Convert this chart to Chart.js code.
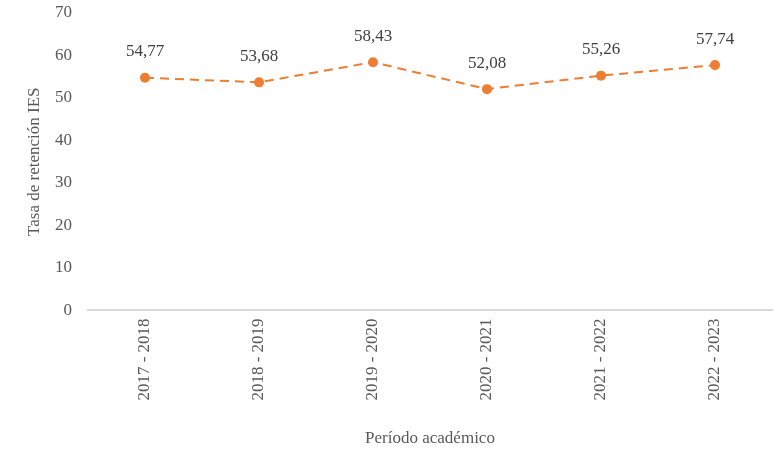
<!DOCTYPE html>
<html>
<head>
<meta charset="utf-8">
<script src="https://cdn.jsdelivr.net/npm/chart.js@4/dist/chart.umd.min.js"></script>
<style>
    html, body { margin: 0; padding: 0; background: #fff; }
    #wrap { width: 777px; height: 449px; }
</style>
</head>
<body>
<div id="wrap"><canvas id="chart"></canvas></div>
<script>
// ── Données ────────────────────────────────────────────────
const PERIODOS = ['2017 - 2018', '2018 - 2019', '2019 - 2020', '2020 - 2021', '2021 - 2022', '2022 - 2023'];
const TASAS    = [54.77, 53.68, 58.43, 52.08, 55.26, 57.74];
const Y_TICKS  = [0, 10, 20, 30, 40, 50, 60, 70];

const ORANGE = '#ED7D31';
const GRIS   = '#595959';
const FONT   = "'Liberation Serif', 'Times New Roman', serif";

// valeurs au-dessus des points
const labelsPlugin = {
    id: 'valueLabels',
    afterDatasetsDraw(chart) {
        const ctx  = chart.ctx;
        const meta = chart.getDatasetMeta(0);
        ctx.save();
        ctx.font = `17px ${FONT}`;
        ctx.fillStyle = '#404040';
        ctx.textAlign = 'center';
        ctx.textBaseline = 'middle';
        meta.data.forEach((pt, i) => {
            const txt = TASAS[i].toFixed(2).replace('.', ',');
            ctx.fillText(txt, pt.x, pt.y - 26);
        });
        ctx.restore();
    }
};

const ctx = document.getElementById('chart').getContext('2d');
new Chart(ctx, {
    type: 'line',
    data: {
        labels: PERIODOS,
        datasets: [{
            data: TASAS,
            borderColor: ORANGE,
            backgroundColor: ORANGE,
            borderWidth: 2,
            borderDash: [9, 6],
            pointRadius: 5,
            pointBorderWidth: 0,
            pointBackgroundColor: ORANGE,
            tension: 0,
        }]
    },
    options: {
        responsive: true,
        maintainAspectRatio: false,
        animation: false,
        layout: { padding: { top: 13, right: -5, left: 20, bottom: -4 } },
        plugins: { legend: { display: false }, tooltip: { enabled: false } },
        scales: {
            y: {
                min: 0, max: 70,
                afterBuildTicks: axis => { axis.ticks = Y_TICKS.map(v => ({ value: v })); },
                afterFit: axis => { axis.width = 68; axis.paddingTop = 0; axis.paddingBottom = 0; },
                grid: { display: false },
                border: { display: false },
                ticks: { color: GRIS, font: { family: FONT, size: 17 }, padding: 8 },
                title: {
                    display: true, text: 'Tasa de retención IES',
                    color: GRIS, font: { family: FONT, size: 17 }, padding: { bottom: 0 }
                }
            },
            x: {
                offset: true,
                afterFit: axis => { axis.paddingRight = 0; axis.paddingLeft = 0; },
                grid: { display: false },
                border: { color: '#D9D9D9', width: 2 },
                ticks: {
                    color: GRIS, font: { family: FONT, size: 17 },
                    minRotation: 90, maxRotation: 90, padding: 0
                },
                title: {
                    display: true, text: 'Período académico',
                    color: GRIS, font: { family: FONT, size: 17 }, padding: { top: 28 }
                }
            }
        }
    },
    plugins: [labelsPlugin]
});
</script>
</body>
</html>
